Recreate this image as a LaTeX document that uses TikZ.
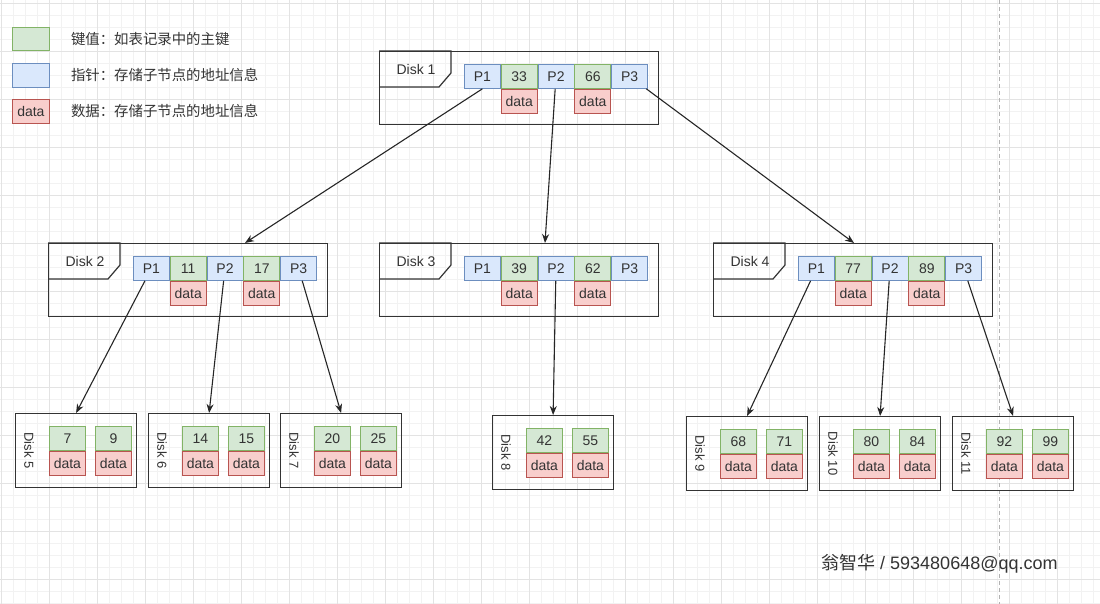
\documentclass[tikz,border=0pt]{standalone}
\usepackage{fontspec}
\setmainfont{Liberation Sans}
\newfontfamily\cjk{Noto Sans CJK SC}
\usetikzlibrary{positioning,calc,arrows.meta}

\definecolor{keyfill}{HTML}{D5E8D4}
\definecolor{keyline}{HTML}{82B366}
\definecolor{ptrfill}{HTML}{DAE8FC}
\definecolor{ptrline}{HTML}{6C8EBF}
\definecolor{valfill}{HTML}{F8CECC}
\definecolor{valline}{HTML}{B85450}
\definecolor{inkgray}{HTML}{333333}

\begin{document}
\begin{tikzpicture}[
    x=1pt, y=-1pt,
    every node/.style={font=\fontsize{14}{16}\selectfont, text=inkgray, inner sep=0pt},
    cell/.style={draw, line width=0.8pt, minimum width=36pt, minimum height=24pt},
    key/.style={cell, fill=keyfill, draw=keyline},
    ptr/.style={cell, fill=ptrfill, draw=ptrline},
    val/.style={cell, fill=valfill, draw=valline},
    disk/.style={draw=inkgray, line width=1.2pt, minimum width=279pt, minimum height=73pt, anchor=north west},
    leaf/.style={draw=inkgray, line width=1.2pt, minimum width=121pt, minimum height=74pt, anchor=north west},
    tab/.style={draw=inkgray, line width=1.2pt},
    link/.style={draw=black!85, line width=1.1pt, -{Stealth[length=9pt,width=7pt]}},
    legendtext/.style={anchor=west, font=\cjk\fontsize{14.4}{16}\selectfont},
    gridminor/.style={draw=black!5, line width=0.8pt},
    gridmajor/.style={draw=black!11, line width=0.9pt},
    pageline/.style={draw=black!30, line width=0.8pt, dash pattern=on 4pt off 3pt}
  ]
  \useasboundingbox (0,0) rectangle (1100,604);

  % background grid
  \foreach \i in {1,13,...,1100} \draw[gridminor] (\i,0) -- (\i,604);
  \foreach \j in {3,15,...,604} \draw[gridminor] (0,\j) -- (1100,\j);
  \foreach \i in {1,49,...,1100} \draw[gridmajor] (\i,0) -- (\i,604);
  \foreach \j in {3,51,...,604} \draw[gridmajor] (0,\j) -- (1100,\j);
  \draw[pageline] (999,0) -- (999,604);

  % legend
  \node[key, minimum width=37pt, minimum height=23pt, anchor=north west] (lgkey) at (12,27) {};
  \node[ptr, minimum width=37pt, minimum height=24pt, anchor=north west] (lgptr) at (12,63) {};
  \node[val, minimum width=37pt, minimum height=24pt, anchor=north west] (lgval) at (12,99) {data};
  \node[legendtext, right=21pt of lgkey] {键值：如表记录中的主键};
  \node[legendtext, right=21pt of lgptr] {指针：存储子节点的地址信息};
  \node[legendtext, right=21pt of lgval] {数据：存储子节点的地址信息};

  % inner disks
  \foreach \n/\x/\y/\a/\b in {1/379/51/33/66, 2/48/243/11/17, 3/379/243/39/62, 4/713/243/77/89} {
    \node[disk] (disk\n) at (\x,\y) {};
    \draw[tab] (disk\n.north west) -- ++(72,0) -- ++(0,22) -- ++(-12,14) -- ++(-60,0);
    \node at ($(disk\n.north west)+(37,18)$) {Disk \n};
    \node[ptr, anchor=north west] (d\n-p1) at ($(disk\n.north west)+(85,13)$) {P1};
    \node[key, right=0pt of d\n-p1] (d\n-k1) {\a};
    \node[ptr, right=0pt of d\n-k1] (d\n-p2) {P2};
    \node[key, right=0pt of d\n-p2] (d\n-k2) {\b};
    \node[ptr, right=0pt of d\n-k2] (d\n-p3) {P3};
    \node[val, below=0pt of d\n-k1] {data};
    \node[val, below=0pt of d\n-k2] {data};
  }

  % leaf disks
  \foreach \n/\x/\y/\a/\b in {5/15/413/7/9, 6/148/413/14/15, 7/280/413/20/25, 8/492/415/42/55,
                              9/686/416/68/71, 10/819/416/80/84, 11/952/416/92/99} {
    \node[leaf] (disk\n) at (\x,\y) {};
    \node[rotate=-90, font=\fontsize{13}{15}\selectfont] at ($(disk\n.west)+(14,0)$) {Disk \n};
    \node[key, anchor=north west] (d\n-k1) at ($(disk\n.north west)+(34,13)$) {\a};
    \node[key, anchor=north west] (d\n-k2) at ($(disk\n.north west)+(80,13)$) {\b};
    \node[val, below=0pt of d\n-k1] {data};
    \node[val, below=0pt of d\n-k2] {data};
  }

  % pointers
  \draw[link] (d1-p1.south) -- ($(disk2.north west)+(197,0)$);
  \draw[link] (d1-p2) -- ($(disk3.north west)+(166,0)$);
  \draw[link] (d1-p3) -- ($(disk4.north west)+(141,0)$);
  \draw[link] (d2-p1) -- (disk5.north);
  \draw[link] (d2-p2) -- (disk6.north);
  \draw[link] (d2-p3) -- (disk7.north);
  \draw[link] (d3-p2) -- (disk8.north);
  \draw[link] (d4-p1) -- (disk9.north);
  \draw[link] (d4-p2) -- (disk10.north);
  \draw[link] (d4-p3) -- (disk11.north);

  % watermark
  \node[anchor=west, font=\fontsize{18}{21}\selectfont] (mark) at (821,564) {{\cjk 翁智华} / 593480648@qq.com};
\end{tikzpicture}
\end{document}
